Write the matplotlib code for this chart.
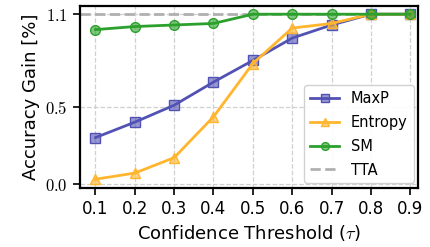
import matplotlib
matplotlib.use("Agg")
import matplotlib.pyplot as plt
from matplotlib.ticker import FuncFormatter

plt.rcParams["font.family"] = ["DejaVu Sans"]
plt.rcParams["mathtext.fontset"] = "cm"

thresholds = [0.1, 0.2, 0.3, 0.4, 0.5, 0.6, 0.7, 0.8, 0.9]
maxp = [0.30, 0.40, 0.51, 0.66, 0.80, 0.945, 1.03, 1.10, 1.10]
entropy = [0.03, 0.07, 0.17, 0.435, 0.78, 1.01, 1.04, 1.10, 1.10]
sm = [1.00, 1.02, 1.03, 1.04, 1.10, 1.10, 1.10, 1.10, 1.10]
tta = 1.10
yticks = [0.0, 0.5, 1.1]

fig, ax = plt.subplots(figsize=(4.31, 2.47), dpi=100)

ax.plot(thresholds, maxp, color="#5252b5", marker="s", ms=7, lw=2,
        mfc=(0.32, 0.32, 0.71, 0.6), mec="#5252b5", label="MaxP", zorder=3)
ax.plot(thresholds, entropy, color="#ffb52e", marker="^", ms=7, lw=2,
        mfc=(1.0, 0.71, 0.18, 0.6), mec="#ffb52e", label="Entropy", zorder=3)
ax.plot(thresholds, sm, color="#2ca02c", marker="o", ms=7, lw=2,
        mfc=(0.17, 0.63, 0.17, 0.6), mec="#2ca02c", label="SM", zorder=3)
ax.axhline(tta, color="#b0b0b0", ls="--", lw=2, label="TTA", zorder=2)

ax.set_xlim(0.06, 0.92)
ax.set_ylim(-0.025, 1.152)
ax.set_xticks(thresholds)
ax.set_yticks(yticks)
ax.yaxis.set_major_formatter(FuncFormatter(lambda v, _: rf"${v:.1f}$"))
ax.tick_params(labelsize=12, length=5, width=1.2)
ax.grid(True, ls="--", color="#d0d0d0", lw=0.9)
for s in ax.spines.values():
    s.set_linewidth(1.6)

ax.set_xlabel(r"Confidence Threshold ($\tau$)", fontsize=13)
ax.set_ylabel("Accuracy Gain [%]", fontsize=13)
ax.legend(loc="lower right", fontsize=10.5, handlelength=2.0, markerscale=0.8,
          framealpha=0.9, borderaxespad=0.3, labelspacing=0.6)

fig.subplots_adjust(left=0.185, right=0.97, top=0.975, bottom=0.24)
fig.savefig("out.png", dpi=100)
